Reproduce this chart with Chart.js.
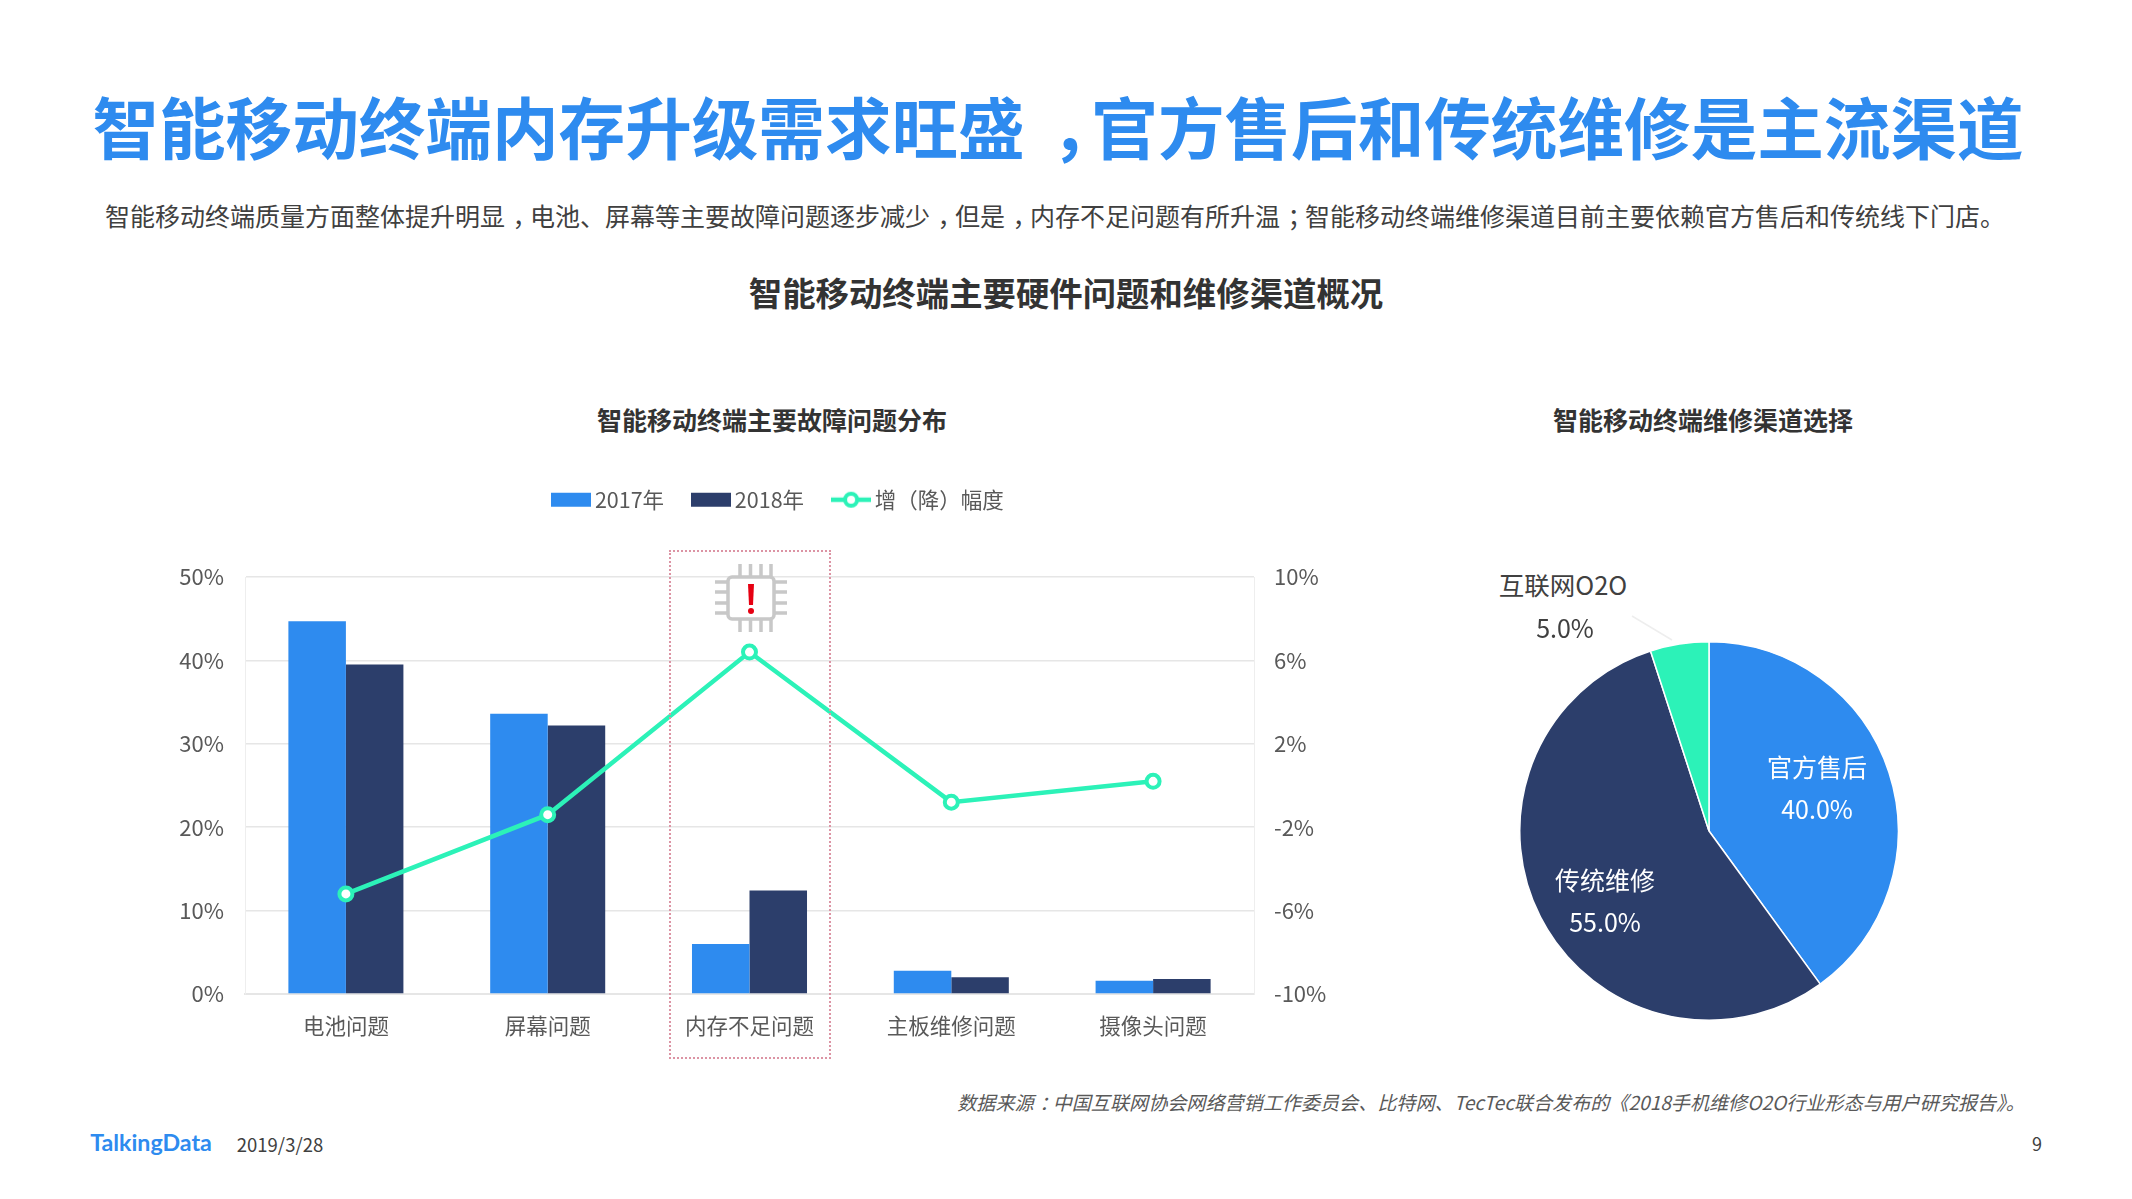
<!DOCTYPE html>
<html lang="zh">
<head>
<meta charset="utf-8">
<script src="https://cdn.jsdelivr.net/npm/chart.js@4"></script>
<style>
html,body{margin:0;padding:0;background:#fff;width:2132px;height:1199px;overflow:hidden}
body{position:relative;font-family:"Noto Sans CJK SC","Noto Sans",sans-serif}
.t{position:absolute;white-space:nowrap;transform:translate(-50%,-50%);line-height:1}
.p{position:relative;left:.3em}
canvas{position:absolute;display:block}
</style>
</head>
<body>
<div class="t" style="left:1058px;top:125px;font-size:66.600px;font-weight:700;color:#2e8bef">智能移动终端内存升级需求旺盛<span class="p" style="left:.4em">，</span>官方售后和传统维修是主流渠道</div>
<div class="t" style="left:1055px;top:215px;font-size:25px;color:#404040">智能移动终端质量方面整体提升明显<span class="p">，</span>电池、屏幕等主要故障问题逐步减少<span class="p">，</span>但是<span class="p">，</span>内存不足问题有所升温<span class="p">；</span>智能移动终端维修渠道目前主要依赖官方售后和传统线下门店。</div>
<div class="t" style="left:1066px;top:292px;font-size:33.400px;font-weight:700;color:#333">智能移动终端主要硬件问题和维修渠道概况</div>
<div class="t" style="left:772px;top:419px;font-size:25px;font-weight:700;color:#333">智能移动终端主要故障问题分布</div>
<div class="t" style="left:1703px;top:419px;font-size:25px;font-weight:700;color:#333">智能移动终端维修渠道选择</div>

<canvas id="combo" width="1274" height="599" style="left:144px;top:455px;width:1274px;height:599px"></canvas>
<canvas id="pie" width="380" height="380" style="left:1519px;top:641px;width:380px;height:380px"></canvas>

<div style="position:absolute;left:669px;top:550px;width:158px;height:505px;border:2px dotted #dc94a4;box-sizing:content-box"></div>
<svg style="position:absolute;left:711px;top:560px" width="80" height="76" viewBox="0 0 80 76">
  <g stroke="#c8c8c8" stroke-width="3.5" fill="none">
    <path d="M29 4V16M39.500 4V16M50 4V16M60 4V16"/>
    <path d="M29 60V72M39.500 60V72M50 60V72M60 60V72"/>
    <path d="M4 22H16M4 32H16M4 43H16M4 53H16"/>
    <path d="M64 22H76M64 32H76M64 43H76M64 53H76"/>
    <rect x="17" y="17" width="46" height="42" rx="4" fill="#fff"/>
  </g>
  <path d="M37 24H43L42 45H38Z" fill="#e60012"/>
  <circle cx="40" cy="51" r="3" fill="#e60012"/>
</svg>

<div id="lblA" class="t" style="left:1817px;top:766px;font-size:25px;color:#fff"></div>
<div id="valA" class="t" style="left:1817px;top:808px;font-size:25px;color:#fff"></div>
<div id="lblB" class="t" style="left:1605px;top:879px;font-size:25px;color:#fff"></div>
<div id="valB" class="t" style="left:1605px;top:921px;font-size:25px;color:#fff"></div>
<div id="lblC" class="t" style="left:1563px;top:584px;font-size:25.500px;color:#404040"></div>
<div id="valC" class="t" style="left:1565px;top:627px;font-size:25px;color:#404040"></div>
<svg style="position:absolute;left:1625px;top:610px" width="60" height="40"><path d="M7 6L47 30" stroke="#eee" stroke-width="1.500" fill="none"/></svg>

<div class="t" style="left:1491px;top:1103px;font-size:19.100px;font-style:italic;color:#595959">数据来源<span class="p">：</span>中国互联网协会网络营销工作委员会、比特网、TecTec联合发布的《2018手机维修O2O行业形态与用户研究报告》。</div>
<div class="t" style="left:151px;top:1143px;font-size:23.200px;font-weight:700;color:#2e8bef;font-family:Lato,'Noto Sans',sans-serif">TalkingData</div>
<div class="t" style="left:280px;top:1144px;font-size:18.500px;color:#404040">2019/3/28</div>
<div class="t" style="left:2037px;top:1143px;font-size:18px;color:#404040">9</div>

<script>
const categories = ['电池问题','屏幕问题','内存不足问题','主板维修问题','摄像头问题'];
const values2017 = [44.7,33.6,6.0,2.8,1.6];
const values2018 = [39.5,32.2,12.4,2.0,1.8];
const changes = [-5.2,-1.4,6.4,-0.8,0.2];
const seriesNames = ['2017年','2018年','增（降）幅度'];
const channelNames = ['官方售后','传统维修','互联网O2O'];
const channelValues = [40.0,55.0,5.0];
const BLUE='#2e8bef', NAVY='#2c3e6b', GREEN='#2cf2b8', TEXT='#595959', GRID='#e6e6e6';

Chart.defaults.font.family='"Noto Sans CJK SC","Noto Sans",sans-serif';
Chart.defaults.font.size=22;
Chart.defaults.color=TEXT;
Chart.defaults.animation=false;

function swatch(kind,color){
  const c=document.createElement('canvas');c.width=40;c.height=18;
  const g=c.getContext('2d');
  if(kind==='bar'){g.fillStyle=color;g.fillRect(0,2,40,14);}
  else{g.strokeStyle=color;g.lineWidth=4.5;g.beginPath();g.moveTo(0,9);g.lineTo(40,9);g.stroke();
    g.fillStyle='#fff';g.lineWidth=4;g.beginPath();g.arc(20,9,6,0,Math.PI*2);g.fill();g.stroke();}
  return c;
}
const swatches=[swatch('bar',BLUE),swatch('bar',NAVY),swatch('line',GREEN)];

const legendSpace={id:'legendSpace',beforeLayout(chart){
  const l=chart.legend;
  if(l&&!l._spaced){const f=l.fit;l.fit=function(){f.call(this);this.height=122;};l._spaced=true;}
}};

new Chart(document.getElementById('combo'),{
  type:'bar',
  plugins:[legendSpace],
  data:{labels:categories,datasets:[
    {label:seriesNames[0],data:values2017,backgroundColor:BLUE,yAxisID:'y',order:2,categoryPercentage:0.57,barPercentage:1},
    {label:seriesNames[1],data:values2018,backgroundColor:NAVY,yAxisID:'y',order:2,categoryPercentage:0.57,barPercentage:1},
    {type:'line',label:seriesNames[2],data:changes,yAxisID:'y1',order:1,borderColor:GREEN,borderWidth:4.5,tension:0,
     pointRadius:6.5,pointBackgroundColor:'#fff',pointBorderColor:GREEN,pointBorderWidth:4}
  ]},
  options:{
    responsive:false,devicePixelRatio:1,
    layout:{padding:0},
    plugins:{tooltip:{enabled:false},
      legend:{display:true,position:'top',labels:{usePointStyle:true,pointStyleWidth:26,padding:34,color:TEXT,font:{size:21.5},
        sort:(a,b)=>a.datasetIndex-b.datasetIndex,
        generateLabels(chart){const it=Chart.defaults.plugins.legend.labels.generateLabels(chart);it.forEach(x=>{x.pointStyle=swatches[x.datasetIndex];});return it;}}}},
    scales:{
      x:{grid:{display:false,drawTicks:false},border:{display:true,color:GRID,width:2},
         ticks:{padding:19,font:{size:21.5},color:TEXT,maxRotation:0},afterFit(s){s.height=60;}},
      y:{position:'left',min:0,max:50,grid:{color:GRID,lineWidth:1.5,drawTicks:false},border:{display:true,color:'#eeeeee'},
         ticks:{stepSize:10,padding:21,color:TEXT,font:{size:22},callback:v=>v+'%'},afterFit(s){s.width=101;}},
      y1:{position:'right',min:-10,max:10,grid:{display:false,drawTicks:false},border:{display:true,color:'#eeeeee'},
         ticks:{stepSize:4,padding:20,color:TEXT,font:{size:22},callback:v=>Math.round(v)+'%'},afterFit(s){s.width=164;}}
    }
  }
});

new Chart(document.getElementById('pie'),{
  type:'pie',
  data:{labels:channelNames,datasets:[{data:channelValues,backgroundColor:[BLUE,NAVY,GREEN],borderColor:'#fff',borderWidth:1.5}]},
  options:{responsive:false,devicePixelRatio:1,layout:{padding:0},plugins:{legend:{display:false},tooltip:{enabled:false}}}
});

['A','B','C'].forEach((k,i)=>{
  document.getElementById('lbl'+k).textContent=channelNames[i];
  document.getElementById('val'+k).textContent=channelValues[i].toFixed(1)+'%';
});
</script>
</body>
</html>
